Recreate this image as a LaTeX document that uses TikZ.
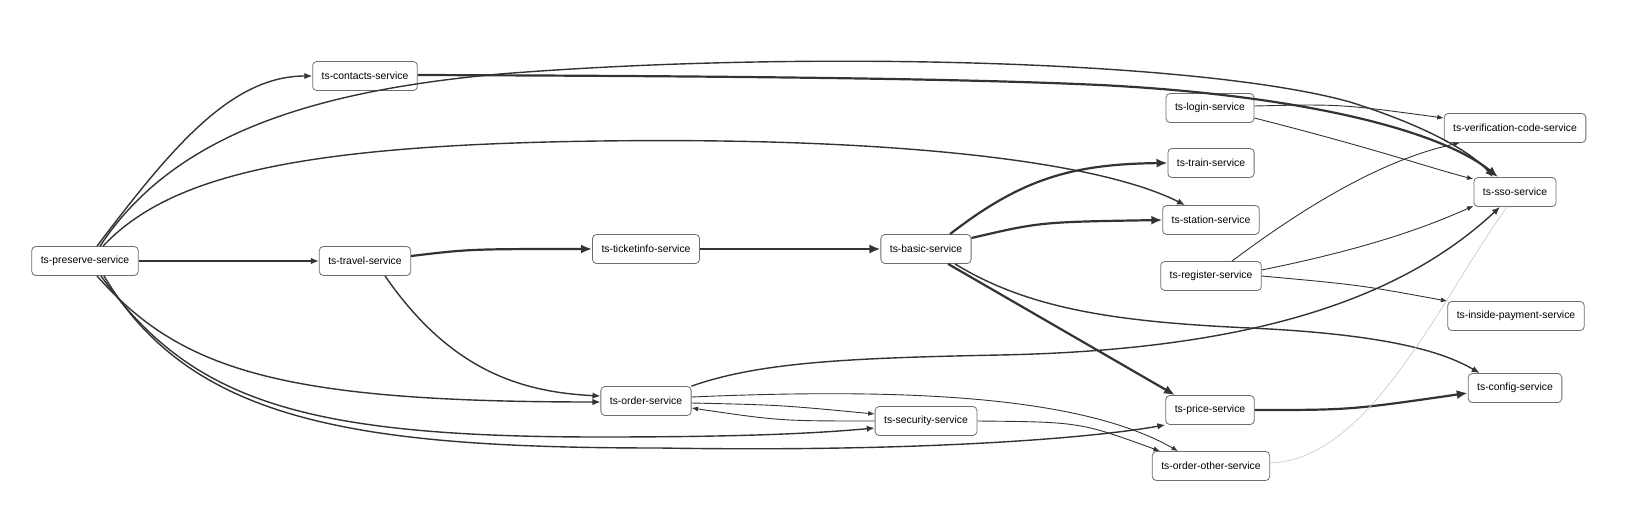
\documentclass[tikz,border=0pt]{standalone}
\usepackage{fontspec}
\setmainfont{Liberation Sans}
\usepackage{tikz}
\usetikzlibrary{arrows.meta}
\usetikzlibrary{positioning}

\definecolor{edgegray}{HTML}{333333}
\definecolor{boxgray}{HTML}{6E6E6E}
\definecolor{ghost}{HTML}{CCCCCC}

\begin{document}
\begin{tikzpicture}[
    x=1pt, y=-1pt,
    every node/.style={font=\fontsize{10.4}{12}\selectfont},
    svc/.style={
        draw=boxgray,
        line width=0.8pt,
        rounded corners=4pt,
        fill=white,
        inner xsep=9pt,
        minimum height=29pt
    },
    heavy/.style={-{Latex[length=11pt,width=9pt]}, draw=edgegray, line width=2.2pt},
    link/.style={-{Latex[length=8pt,width=6.5pt]}, draw=edgegray, line width=1.4pt},
    light/.style={-{Latex[length=6.5pt,width=5pt]}, draw=edgegray, line width=0.9pt},
    faint/.style={draw=ghost, line width=0.7pt}
]
\useasboundingbox (0,0) rectangle (1641,525);

% Services
\node[svc] (preserve) at (85,261) {ts-preserve-service};
\node[svc] (contacts) at (365,76) {ts-contacts-service};
\node[svc] (travel) at (365,261) {ts-travel-service};
\node[svc] (ticketinfo) at (646,249) {ts-ticketinfo-service};
\node[svc] (basic) at (926,249) {ts-basic-service};
\node[svc] (order) at (646,401) {ts-order-service};
\node[svc] (security) at (926,421) {ts-security-service};

\node[svc] (login) at (1210,108) {ts-login-service};
\node[svc] (train) at (1211,163) {ts-train-service};
\node[svc] (station) at (1211,220) {ts-station-service};
\node[svc] (register) at (1211,276) {ts-register-service};
\node[svc] (price) at (1210,410) {ts-price-service};
\node[svc] (orderother) at (1211,466) {ts-order-other-service};

\node[svc] (verify) at (1515,128) {ts-verification-code-service};
\node[svc] (sso) at (1515,192) {ts-sso-service};
\node[svc] (payment) at (1516,316) {ts-inside-payment-service};
\node[svc] (config) at (1515,388) {ts-config-service};

% Calls from preserve
\draw[link] ([xshift=12pt]preserve.north) .. controls (170,150) and (230,76) .. (contacts.west);
\draw[link] ([xshift=15pt]preserve.north) .. controls (170,140) and (300,92) .. (500,74)
    .. controls (800,50) and (1200,60) .. (1350,102)
    .. controls (1420,124) and (1470,150) .. ([xshift=-22pt]sso.north);
\draw[link] ([xshift=18pt]preserve.north) .. controls (170,175) and (300,145) .. (600,141)
    .. controls (900,137) and (1100,162) .. ([xshift=-26pt]station.north);
\draw[link] (preserve.east) -- (travel.west);
\draw[link] ([xshift=12pt]preserve.south) .. controls (180,370) and (280,402) .. ([yshift=-1pt]order.west);
\draw[link] ([xshift=16pt]preserve.south) .. controls (190,400) and (300,437) .. (600,437)
    .. controls (750,437) and (820,433) .. ([yshift=-7pt]security.west);
\draw[link] ([xshift=19pt]preserve.south) .. controls (190,420) and (350,448) .. (660,448)
    .. controls (900,452) and (1080,440) .. (price.south west);

% Main chain
\draw[heavy] ([yshift=5pt]travel.east) .. controls (470,249) .. (ticketinfo.west);
\draw[link] ([xshift=20pt]travel.south) .. controls (450,370) and (520,392) .. ([yshift=5pt]order.west);
\draw[heavy] (ticketinfo.east) -- (basic.west);
\draw[heavy] ([xshift=24pt]basic.north) .. controls (1020,180) and (1070,164) .. (train.west);
\draw[heavy] ([yshift=11pt]basic.east) .. controls (1040,222) .. (station.west);
\draw[heavy] ([xshift=22pt]basic.south) -- ([xshift=-35pt]price.north);
\draw[link] ([xshift=29pt]basic.south) .. controls (1030,310) and (1120,322) .. (1250,328)
    .. controls (1380,334) and (1440,350) .. ([xshift=12pt]config.north west);
\draw[heavy] (price.east) .. controls (1350,410) .. ([yshift=-5pt]config.west);

% Contacts, login, register
\draw[heavy] ([yshift=1pt]contacts.east) .. controls (700,76) and (950,78) .. (1100,85)
    .. controls (1300,95) and (1440,130) .. ([xshift=-17pt]sso.north);
\draw[light] ([yshift=2pt]login.east) .. controls (1340,104) .. ([yshift=10pt]verify.west);
\draw[light] ([yshift=-10pt]login.east) .. controls (1380,150) and (1430,168) .. ([yshift=-2pt]sso.north west);
\draw[light] ([xshift=21pt]register.north) .. controls (1300,210) and (1380,160) .. ([xshift=16pt]verify.south west);
\draw[light] ([yshift=6pt]register.east) .. controls (1360,250) and (1420,230) .. ([yshift=1pt]sso.south west);
\draw[light] (register.east) .. controls (1360,285) .. (payment.north west);

% Order side
\draw[link] (order.north east) .. controls (760,362) and (850,358) .. (1000,355)
    .. controls (1250,350) and (1400,300) .. ([xshift=-15pt]sso.south);
\draw[light] ([yshift=-2pt]order.east) .. controls (780,405) .. ([yshift=7pt]security.west);
\draw[light] (security.west) .. controls (780,421) .. ([yshift=-7pt]order.east);
\draw[light] ([yshift=4pt]order.east) .. controls (900,388) and (1080,395) .. ([xshift=-33pt]orderother.north);
\draw[light] (security.east) .. controls (1080,422) .. ([xshift=8pt]orderother.north west);
\draw[faint] ([yshift=3pt]orderother.east) .. controls (1370,460) and (1440,300) .. ([xshift=-8pt]sso.south);

\end{tikzpicture}
\end{document}
